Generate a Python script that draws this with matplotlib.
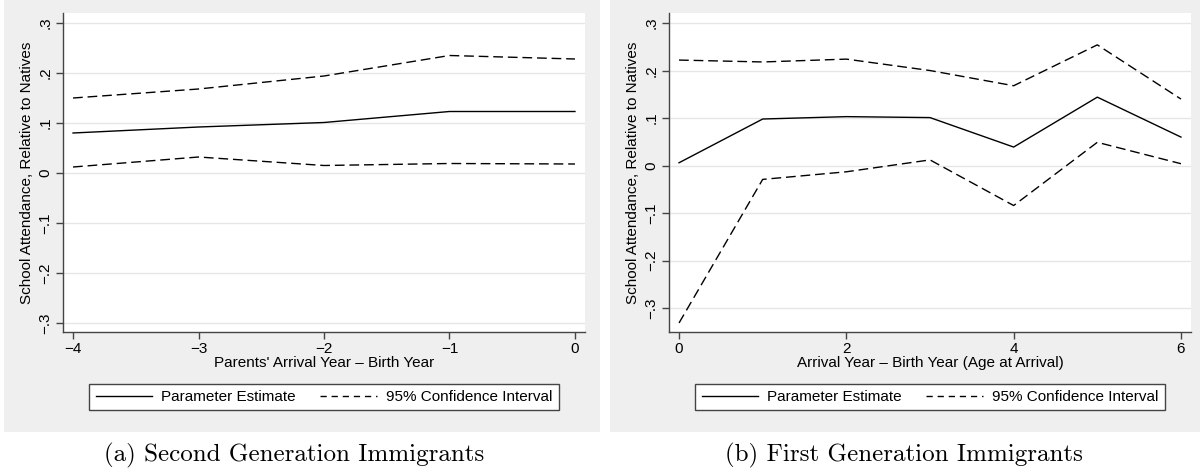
import matplotlib
matplotlib.use("Agg")
import matplotlib.pyplot as plt
from matplotlib.patches import Rectangle
from matplotlib.lines import Line2D

plt.rcParams['font.family'] = ['Liberation Sans', 'DejaVu Sans']

# ---- data ----
x_second = [-4, -3, -2, -1, 0]
est_second = [0.080, 0.092, 0.101, 0.123, 0.123]
upper_second = [0.150, 0.168, 0.194, 0.235, 0.228]
lower_second = [0.012, 0.032, 0.015, 0.019, 0.018]

x_first = [0, 1, 2, 3, 4, 5, 6]
est_first = [0.006, 0.098, 0.103, 0.101, 0.039, 0.144, 0.060]
upper_first = [0.222, 0.218, 0.224, 0.200, 0.168, 0.254, 0.140]
lower_first = [-0.331, -0.029, -0.013, 0.012, -0.084, 0.049, 0.004]

yticks = [-0.3, -0.2, -0.1, 0.0, 0.1, 0.2, 0.3]
ytick_labels = ['\u2212.3', '\u2212.2', '\u2212.1', '0', '.1', '.2', '.3']
xticks_second = [-4, -3, -2, -1, 0]
xtick_labels_second = ['\u22124', '\u22123', '\u22122', '\u22121', '0']
xticks_first = [0, 2, 4, 6]
xtick_labels_first = ['0', '2', '4', '6']

ylabel = 'School Attendance, Relative to Natives'
xlabel_second = "Parents' Arrival Year \u2013 Birth Year"
xlabel_first = 'Arrival Year \u2013 Birth Year (Age at Arrival)'
legend_labels = ['Parameter Estimate', '95% Confidence Interval']
captions = ['(a) Second Generation Immigrants', '(b) First Generation Immigrants']

W, H = 1202, 476
fig = plt.figure(figsize=(W / 100, H / 100), dpi=100)
fig.patch.set_facecolor('white')

panel_gray = '#efefef'
grid_col = '#e6e6e6'
spine_col = '#444444'
dash = (0, (7, 3.5))


def fx(px):
    return px / W


def fy(py):
    return 1 - py / H


# gray panel backgrounds
for x0, x1 in [(4, 600), (610, 1200)]:
    fig.patches.append(Rectangle((fx(x0), fy(432)), fx(x1 - x0), 432 / H,
                                 transform=fig.transFigure, facecolor=panel_gray,
                                 edgecolor='none', zorder=-5))


def make_panel(left_px, xs, est, up, lo, xlim, ylim, xt, xtl, xlabel, legend_center_px):
    ax = fig.add_axes([fx(left_px), fy(332), fx(522), 319 / H])
    ax.set_facecolor('white')
    ax.plot(xs, up, color='black', lw=1.0, linestyle=dash, zorder=3)
    ax.plot(xs, est, color='black', lw=1.0, zorder=3)
    ax.plot(xs, lo, color='black', lw=1.0, linestyle=dash, zorder=3)
    ax.set_xlim(*xlim)
    ax.set_ylim(*ylim)
    ax.set_yticks(yticks)
    ax.set_yticklabels(ytick_labels, rotation=90, va='center', fontsize=11)
    ax.set_xticks(xt)
    ax.set_xticklabels(xtl, fontsize=11)
    ax.grid(axis='y', color=grid_col, lw=1.0, zorder=0)
    ax.set_axisbelow(True)
    for s in ['top', 'right']:
        ax.spines[s].set_visible(False)
    for s in ['left', 'bottom']:
        ax.spines[s].set_color(spine_col)
        ax.spines[s].set_linewidth(1.0)
    ax.tick_params(axis='both', direction='out', length=5, width=1.0, color=spine_col)
    ax.tick_params(axis='x', pad=2)
    ax.tick_params(axis='y', pad=2.5)
    ax.set_ylabel(ylabel, fontsize=11, labelpad=3)
    ax.set_xlabel(xlabel, fontsize=11, labelpad=0.5)
    handles = [Line2D([], [], color='black', lw=1.0),
               Line2D([], [], color='black', lw=1.0, linestyle=(0, (4.5, 3.5)))]
    leg = fig.legend(handles, legend_labels, ncol=2, loc='center',
                     bbox_to_anchor=(fx(legend_center_px[0]), fy(legend_center_px[1])),
                     fontsize=11, frameon=True, fancybox=False, edgecolor=spine_col,
                     handlelength=3.7, handletextpad=0.6, columnspacing=1.6,
                     borderpad=0.4)
    leg.get_frame().set_linewidth(1.0)
    leg.get_frame().set_alpha(None)
    leg.get_frame().set_facecolor('white')
    return ax


make_panel(63, x_second, est_second, upper_second, lower_second,
           (-4.08, 0.08), (-0.318, 0.32), xticks_second, xtick_labels_second,
           xlabel_second, (324, 397))
make_panel(669, x_first, est_first, upper_first, lower_first,
           (-0.12, 6.12), (-0.35, 0.321), xticks_first, xtick_labels_first,
           xlabel_first, (930, 397))

fig.text(fx(294), fy(455), captions[0], family='cmr10', fontsize=18,
         ha='center', va='center')
fig.text(fx(904), fy(455), captions[1], family='cmr10', fontsize=18,
         ha='center', va='center')

fig.savefig('out.png', dpi=100)
